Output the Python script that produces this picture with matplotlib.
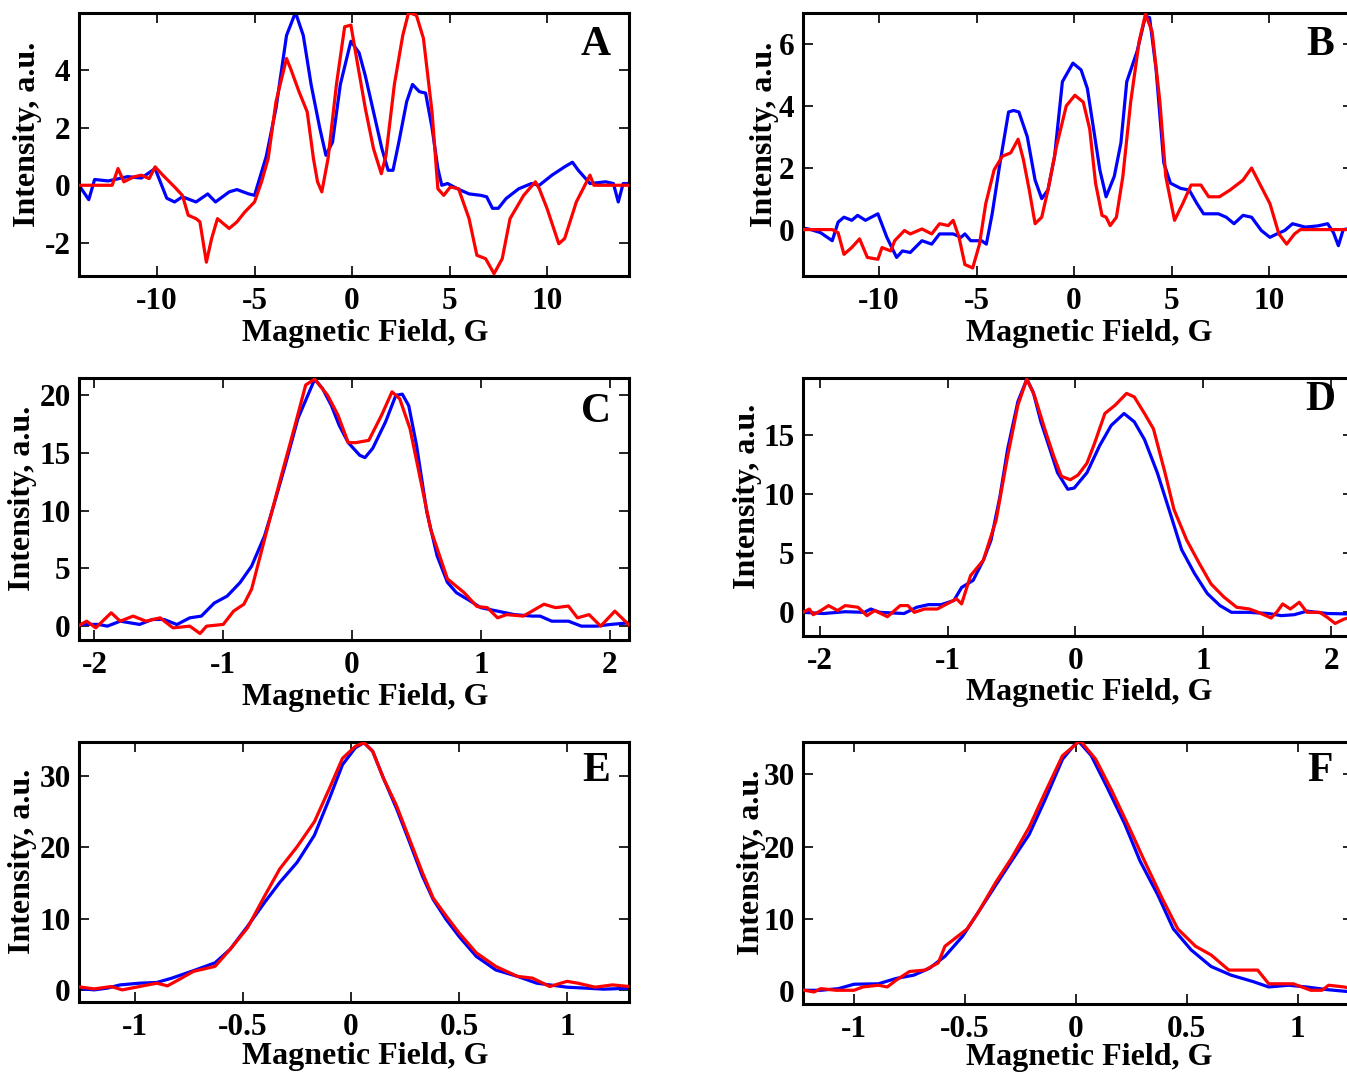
import matplotlib
matplotlib.use("Agg")
import matplotlib.pyplot as plt
from matplotlib.ticker import FuncFormatter

plt.rcParams['font.family'] = ['Liberation Serif', 'DejaVu Serif']
plt.rcParams['font.weight'] = 'bold'
plt.rcParams['axes.unicode_minus'] = False

# ---------------- Panel A ----------------
A_blue_x = [-14.0, -13.5, -13.2, -12.5, -11.5, -10.8, -10.1, -9.5, -9.1, -8.7, -8.0, -7.4, -7.0, -6.3, -5.9, -5.3, -5.0,
            -4.4, -3.9, -3.36, -2.9, -2.5, -2.1, -1.66, -1.34, -1.0, -0.6, -0.06, 0.36, 0.68, 1.1, 1.53, 1.85, 2.1,
            2.4, 2.8, 3.1, 3.45, 3.77, 4.1, 4.4, 4.6, 4.9, 5.4, 6.0, 6.6, 6.9, 7.2, 7.5, 7.9, 8.55, 9.2, 9.6, 10.25,
            10.9, 11.3, 11.6, 12.2, 13.0, 13.4, 13.65, 13.9, 14.2]
A_blue_y = [0.0, -0.5, 0.2, 0.15, 0.3, 0.25, 0.58, -0.45, -0.58, -0.4, -0.58, -0.3, -0.58, -0.23, -0.15, -0.3, -0.35,
            1.0, 2.67, 5.2, 6.0, 5.2, 3.5, 2.0, 1.04, 1.5, 3.5, 5.0, 4.6, 3.8, 2.55, 1.27, 0.52, 0.52,
            1.5, 2.9, 3.5, 3.25, 3.2, 2.0, 0.58, 0.0, 0.06, -0.12, -0.3, -0.35, -0.4, -0.8, -0.8, -0.46, -0.12, 0.06, 0.0, 0.35,
            0.64, 0.8, 0.52, 0.06, 0.12, 0.06, -0.58, 0.06, 0.06]
A_red_x = [-14.0, -12.3, -12.0, -11.7, -11.2, -10.8, -10.4, -10.1, -9.7, -9.1, -8.7, -8.4, -8.0, -7.8, -7.47, -7.2, -6.9,
           -6.3, -5.9, -5.5, -5.0, -4.64, -4.3, -3.9, -3.36, -3.15, -2.72, -2.3, -1.98, -1.77, -1.55, -1.23, -0.8,
           -0.38, -0.06, 0.26, 0.68, 1.1, 1.5, 1.74, 2.17, 2.6, 2.9, 3.3, 3.66, 4.1, 4.4, 4.7, 5.04, 5.46, 6.0,
           6.4, 6.85, 7.28, 7.7, 8.1, 8.8, 9.4, 9.6, 10.0, 10.6, 10.9, 11.5, 12.2, 12.4, 14.2]
A_red_y = [0.0, 0.0, 0.58, 0.12, 0.29, 0.35, 0.23, 0.64, 0.35, -0.06, -0.35, -1.04, -1.16, -1.27, -2.67, -1.85, -1.16,
           -1.5, -1.27, -0.93, -0.58, 0.12, 0.93, 2.9, 4.4, 4.05, 3.25, 2.55, 0.93, 0.12, -0.23, 0.93, 3.5,
           5.5, 5.56, 4.3, 2.67, 1.27, 0.4, 1.04, 3.5, 5.2, 6.0, 5.9, 5.1, 2.55, -0.12, -0.35, -0.06, -0.12, -1.16,
           -2.43, -2.55, -3.07, -2.55, -1.16, -0.35, 0.12, -0.12, -0.81, -2.03, -1.85, -0.58, 0.35, 0.0, 0.0]

# ---------------- Panel B ----------------
B_blue_x = [-14.1, -13.5, -13.0, -12.4, -12.1, -11.8, -11.4, -11.1, -10.7, -10.06, -9.6, -9.1, -8.8, -8.4, -7.8, -7.3,
            -6.9, -6.2, -5.8, -5.6, -5.3, -4.74, -4.5, -4.2, -3.8, -3.36, -3.1, -2.83, -2.4, -2.0, -1.66, -1.34, -1.0,
            -0.6, -0.06, 0.36, 0.68, 1.0, 1.32, 1.64, 2.06, 2.4, 2.7, 3.23, 3.66, 3.87, 4.2, 4.6, 4.94, 5.47, 5.9,
            6.3, 6.64, 7.4, 7.8, 8.2, 8.66, 9.1, 9.6, 10.04, 10.4, 10.8, 11.2, 11.85, 12.5, 13.0, 13.3, 13.55, 13.8, 14.3]
B_blue_y = [0.08, 0.0, -0.1, -0.36, 0.24, 0.4, 0.3, 0.46, 0.3, 0.51, -0.25, -0.9, -0.69, -0.74, -0.36, -0.47,
            -0.14, -0.14, -0.25, -0.14, -0.36, -0.36, -0.47, 0.51, 2.15, 3.8, 3.85, 3.8, 3.0, 1.6, 1.0, 1.28, 2.37,
            4.78, 5.38, 5.16, 4.56, 3.25, 1.93, 1.06, 1.72, 2.8, 4.78, 5.76, 6.9, 6.85, 5.2, 2.15, 1.5, 1.33, 1.28,
            0.84, 0.51, 0.51, 0.4, 0.19, 0.46, 0.4, -0.03, -0.25, -0.14, -0.03, 0.19, 0.08, 0.12, 0.19, -0.1, -0.52, 0.0, 0.05]
B_red_x = [-14.1, -12.4, -12.1, -11.8, -11.4, -11.0, -10.6, -10.06, -9.85, -9.4, -9.2, -8.7, -8.4, -7.8, -7.3, -6.9,
           -6.45, -6.2, -5.9, -5.6, -5.2, -4.85, -4.53, -4.1, -3.68, -3.25, -2.87, -2.6, -2.3, -2.0, -1.66, -1.34,
           -0.9, -0.4, 0.04, 0.47, 0.8, 1.1, 1.43, 1.64, 1.85, 2.17, 2.5, 2.9, 3.34, 3.66, 4.0, 4.4, 4.7, 5.15,
           5.57, 6.0, 6.5, 6.9, 7.45, 8.0, 8.66, 9.1, 9.5, 10.04, 10.5, 10.9, 11.3, 11.6, 14.3]
B_red_y = [0.0, 0.0, -0.1, -0.8, -0.58, -0.3, -0.9, -0.96, -0.58, -0.69, -0.36, -0.03, -0.14, 0.02, -0.14, 0.19,
           0.13, 0.3, -0.25, -1.13, -1.24, -0.47, 0.84, 1.93, 2.37, 2.48, 2.92, 2.26, 1.28, 0.19, 0.4, 1.28,
           2.7, 4.0, 4.34, 4.12, 3.25, 1.5, 0.46, 0.4, 0.13, 0.4, 1.72, 4.12, 6.1, 6.96, 6.4, 4.12, 1.72, 0.3,
           0.84, 1.44, 1.44, 1.06, 1.06, 1.28, 1.6, 1.99, 1.5, 0.84, -0.14, -0.47, -0.14, 0.0, 0.0]

# ---------------- Panel C ----------------
C_blue_x = [-2.13, -1.97, -1.9, -1.8, -1.65, -1.55, -1.46, -1.36, -1.26, -1.17, -1.07, -0.97, -0.87, -0.78, -0.68,
            -0.61, -0.52, -0.42, -0.29, -0.23, -0.16, -0.1, -0.03, 0.06, 0.1, 0.16, 0.26, 0.34, 0.39, 0.44, 0.5,
            0.58, 0.66, 0.74, 0.81, 0.9, 1.0, 1.13, 1.26, 1.4, 1.46, 1.55, 1.68, 1.78, 1.9, 2.0, 2.16]
C_blue_y = [0.15, 0.15, 0.0, 0.43, 0.15, 0.58, 0.58, 0.14, 0.72, 0.87, 2.0, 2.6, 3.77, 5.2, 7.8,
            10.4, 13.9, 18.0, 21.4, 20.6, 19.1, 17.4, 15.9, 14.8, 14.6, 15.4, 17.7, 20.0, 20.1, 19.1, 15.7,
            9.9, 6.1, 3.8, 2.9, 2.3, 1.6, 1.3, 1.0, 0.87, 0.87, 0.43, 0.43, 0.0, 0.0, 0.14, 0.3]
C_red_x = [-2.13, -2.06, -1.99, -1.87, -1.8, -1.7, -1.6, -1.49, -1.39, -1.26, -1.18, -1.13, -1.0, -0.92, -0.84,
           -0.78, -0.68, -0.55, -0.45, -0.36, -0.29, -0.19, -0.11, -0.03, 0.03, 0.13, 0.23, 0.31, 0.37, 0.45,
           0.52, 0.61, 0.74, 0.87, 0.97, 1.05, 1.13, 1.2, 1.33, 1.42, 1.49, 1.58, 1.68, 1.75, 1.84, 1.93, 2.04, 2.16]
C_red_y = [0.0, 0.43, -0.15, 1.16, 0.43, 0.87, 0.43, 0.72, -0.15, 0.0, -0.64, 0.0, 0.15, 1.3, 1.9,
           3.2, 7.5, 13.0, 17.1, 20.9, 21.4, 20.0, 18.3, 15.9, 15.9, 16.1, 18.3, 20.3, 19.7, 17.1,
           13.3, 8.4, 4.1, 2.9, 1.7, 1.6, 0.72, 1.0, 0.87, 1.45, 1.9, 1.6, 1.74, 0.72, 1.0, 0.0, 1.3, 0.0]

# ---------------- Panel D ----------------
D_blue_x = [-2.13, -1.97, -1.8, -1.65, -1.6, -1.53, -1.34, -1.24, -1.15, -1.05, -0.95, -0.89, -0.8, -0.72, -0.66,
            -0.59, -0.53, -0.45, -0.38, -0.33, -0.27, -0.2, -0.14, -0.06, -0.01, 0.09, 0.19, 0.28, 0.38, 0.46,
            0.54, 0.64, 0.74, 0.83, 0.93, 1.03, 1.13, 1.22, 1.35, 1.51, 1.61, 1.71, 1.81, 1.97, 2.2]
D_blue_y = [0.0, -0.1, 0.05, 0.0, 0.28, 0.0, -0.1, 0.43, 0.65, 0.65, 1.0, 2.1, 2.7, 4.4, 6.1,
            9.8, 13.8, 17.8, 19.7, 18.6, 16.1, 13.8, 11.8, 10.4, 10.5, 11.8, 14.1, 15.8, 16.8, 16.1,
            14.6, 11.8, 8.4, 5.3, 3.3, 1.6, 0.57, 0.0, 0.0, -0.1, -0.28, -0.2, 0.1, -0.1, -0.15]
D_red_x = [-2.13, -2.08, -2.05, -1.99, -1.93, -1.86, -1.8, -1.7, -1.63, -1.57, -1.47, -1.37, -1.31, -1.26, -1.18,
           -1.08, -0.98, -0.93, -0.89, -0.82, -0.72, -0.62, -0.53, -0.45, -0.38, -0.32, -0.24, -0.17, -0.11,
           -0.04, 0.02, 0.09, 0.15, 0.23, 0.31, 0.4, 0.46, 0.54, 0.61, 0.7, 0.77, 0.87, 0.97, 1.06, 1.16, 1.26,
           1.36, 1.43, 1.53, 1.58, 1.62, 1.68, 1.75, 1.81, 1.91, 1.97, 2.03, 2.1, 2.2]
D_red_y = [0.0, 0.28, -0.2, 0.15, 0.57, 0.15, 0.57, 0.43, -0.28, 0.15, -0.37, 0.57, 0.57, 0.0, 0.28,
           0.28, 0.85, 1.14, 0.71, 3.1, 4.4, 7.8, 13.2, 17.5, 19.7, 18.3, 15.5, 13.2, 11.5,
           11.2, 11.6, 12.6, 14.3, 16.8, 17.5, 18.5, 18.2, 16.8, 15.5, 11.8, 8.7, 6.1, 4.1, 2.4, 1.3, 0.43,
           0.28, 0.0, -0.48, 0.1, 0.71, 0.28, 0.85, 0.0, 0.0, -0.43, -0.94, -0.57, -0.3]

# ---------------- Panel E ----------------
E_blue_x = [-1.27, -1.19, -1.13, -1.07, -0.98, -0.9, -0.83, -0.73, -0.63, -0.56, -0.48, -0.4, -0.33, -0.25, -0.17,
            -0.1, -0.04, 0.02, 0.06, 0.1, 0.15, 0.21, 0.27, 0.33, 0.38, 0.44, 0.5, 0.58, 0.67, 0.77, 0.86, 0.92,
            1.0, 1.09, 1.17, 1.29]
E_blue_y = [0.24, 0.0, 0.24, 0.7, 0.94, 1.04, 1.65, 2.7, 3.8, 5.7, 8.9, 12.3, 15.1, 17.9, 21.7,
            26.9, 31.6, 34.0, 34.7, 33.5, 29.7, 25.5, 20.8, 16.0, 12.7, 9.9, 7.5, 4.7, 2.8, 1.9, 0.94, 0.7,
            0.38, 0.24, 0.1, 0.24]
E_red_x = [-1.27, -1.19, -1.11, -1.06, -0.98, -0.9, -0.85, -0.8, -0.73, -0.63, -0.56, -0.48, -0.4, -0.33, -0.25,
           -0.17, -0.1, -0.04, 0.02, 0.06, 0.1, 0.15, 0.21, 0.27, 0.33, 0.38, 0.44, 0.5, 0.58, 0.67, 0.77, 0.84,
           0.92, 1.0, 1.05, 1.13, 1.21, 1.29]
E_red_y = [0.47, 0.14, 0.47, 0.0, 0.47, 0.94, 0.57, 1.4, 2.6, 3.3, 5.7, 8.7, 13.2, 17.0, 20.1,
           23.6, 28.3, 32.5, 34.2, 34.7, 33.5, 29.7, 25.9, 21.2, 16.5, 12.9, 10.4, 8.0, 5.2, 3.3, 1.9, 1.65,
           0.47, 1.2, 0.94, 0.38, 0.7, 0.47]

# ---------------- Panel F ----------------
F_blue_x = [-1.24, -1.15, -1.07, -1.0, -0.89, -0.81, -0.73, -0.66, -0.59, -0.51, -0.44, -0.36, -0.29, -0.21, -0.14,
            -0.06, 0.01, 0.07, 0.14, 0.22, 0.29, 0.37, 0.44, 0.52, 0.61, 0.7, 0.8, 0.87, 0.96, 1.04, 1.13, 1.25]
F_blue_y = [0.1, 0.1, 0.33, 0.94, 1.0, 1.74, 2.2, 3.15, 4.8, 7.6, 10.9, 14.7, 18.0, 21.7, 26.4,
            32.1, 34.7, 32.6, 28.3, 23.2, 18.0, 13.3, 8.6, 5.7, 3.4, 2.2, 1.3, 0.56, 0.8, 0.56, 0.2, -0.14]
F_red_x = [-1.24, -1.18, -1.15, -1.08, -1.0, -0.96, -0.89, -0.85, -0.81, -0.75, -0.68, -0.62, -0.59, -0.49, -0.44,
           -0.36, -0.29, -0.21, -0.14, -0.06, 0.02, 0.09, 0.16, 0.24, 0.31, 0.39, 0.46, 0.54, 0.61, 0.69, 0.82,
           0.87, 0.98, 1.06, 1.11, 1.14, 1.21, 1.25]
F_red_y = [0.2, -0.14, 0.33, 0.1, 0.1, 0.56, 0.8, 0.56, 1.5, 2.7, 2.9, 3.9, 6.2, 8.6, 10.9,
           15.1, 18.4, 22.7, 27.4, 32.6, 34.7, 32.1, 27.9, 22.7, 18.0, 12.8, 8.6, 6.2, 5.0, 2.9, 2.9,
           1.0, 1.0, 0.1, 0.1, 0.8, 0.56, 0.3]

panel_letters = ['A', 'B', 'C', 'D', 'E', 'F']

W, H = 1347, 1072
fig = plt.figure(figsize=(W / 100, H / 100), dpi=100)

# (left, top, right, bottom) in pixels
boxes = {
    'A': (79, 13, 629, 276),
    'B': (803, 13, 1353, 276),
    'C': (79, 378, 629, 640),
    'D': (803, 378, 1353, 636),
    'E': (79, 742, 629, 1002),
    'F': (803, 742, 1353, 1004),
}

panels = {
    'A': dict(bx=A_blue_x, by=A_blue_y, rx=A_red_x, ry=A_red_y, xlim=(-14.0, 14.2), ylim=(-3.15, 5.98),
              xt=[-10, -5, 0, 5, 10], yt=[-2, 0, 2, 4], lab=(0.94, 0.88), ylc=(-0.067, 0.54), xly=-0.163),
    'B': dict(bx=B_blue_x, by=B_blue_y, rx=B_red_x, ry=B_red_y, xlim=(-13.9, 14.3), ylim=(-1.5, 7.0),
              xt=[-10, -5, 0, 5, 10], yt=[0, 2, 4, 6], lab=(0.94, 0.88), ylc=(-0.043, 0.54), xly=-0.163),
    'C': dict(bx=C_blue_x, by=C_blue_y, rx=C_red_x, ry=C_red_y, xlim=(-2.12, 2.15), ylim=(-1.2, 21.5),
              xt=[-2, -1, 0, 1, 2], yt=[0, 5, 10, 15, 20], lab=(0.94, 0.87), ylc=(-0.076, 0.54), xly=-0.163),
    'D': dict(bx=D_blue_x, by=D_blue_y, rx=D_red_x, ry=D_red_y, xlim=(-2.13, 2.17), ylim=(-2.0, 19.8),
              xt=[-2, -1, 0, 1, 2], yt=[0, 5, 10, 15], lab=(0.94, 0.915), ylc=(-0.075, 0.54), xly=-0.163),
    'E': dict(bx=E_blue_x, by=E_blue_y, rx=E_red_x, ry=E_red_y, xlim=(-1.26, 1.287), ylim=(-1.7, 34.8),
              xt=[-1, -0.5, 0, 0.5, 1], yt=[0, 10, 20, 30], lab=(0.94, 0.89), ylc=(-0.076, 0.54), xly=-0.155),
    'F': dict(bx=F_blue_x, by=F_blue_y, rx=F_red_x, ry=F_red_y, xlim=(-1.23, 1.25), ylim=(-1.8, 34.5),
              xt=[-1, -0.5, 0, 0.5, 1], yt=[0, 10, 20, 30], lab=(0.94, 0.89), ylc=(-0.067, 0.54), xly=-0.148),
}

fmt = FuncFormatter(lambda v, p: '%g' % v)

for key in panel_letters:
    l, t, r, b = boxes[key]
    ax = fig.add_axes([l / W, 1 - b / H, (r - l) / W, (b - t) / H])
    p = panels[key]
    ax.plot(p['bx'], p['by'], color='#0000ff', lw=2.3, zorder=2)
    ax.plot(p['rx'], p['ry'], color='#ff0000', lw=2.3, zorder=3)
    ax.set_xlim(*p['xlim'])
    ax.set_ylim(*p['ylim'])
    ax.set_xticks(p['xt'])
    ax.set_yticks(p['yt'])
    ax.xaxis.set_major_formatter(fmt)
    ax.yaxis.set_major_formatter(fmt)
    ax.tick_params(direction='in', length=7, width=1.2, top=True, right=True,
                   labelsize=22.5, pad=6)
    ax.tick_params(axis='x', pad=8)
    for s in ax.spines.values():
        s.set_linewidth(2.2)
    ax.set_xlabel('Magnetic Field, G', fontsize=23, fontweight='bold')
    ax.xaxis.set_label_coords(0.52, p['xly'])
    ax.set_ylabel('Intensity, a.u.', fontsize=23, fontweight='bold')
    ax.yaxis.set_label_coords(*p['ylc'])
    ax.text(p['lab'][0], p['lab'][1], key, transform=ax.transAxes, fontsize=30,
            fontweight='bold', ha='center', va='center')

fig.savefig('out.png', dpi=100)
